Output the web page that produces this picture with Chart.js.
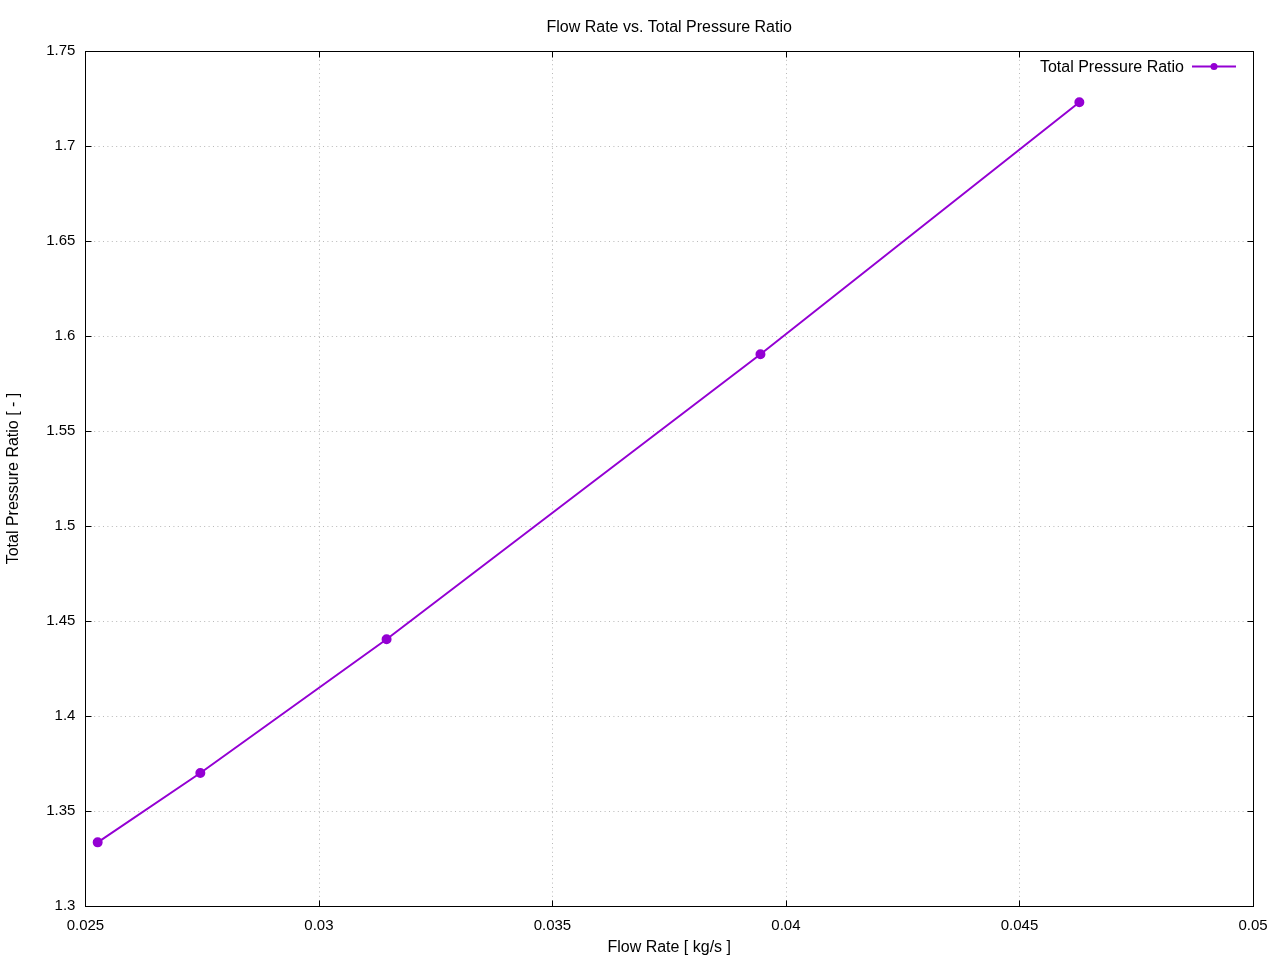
<!DOCTYPE html>
<html>
<head>
<meta charset="utf-8">
<script src="https://cdn.jsdelivr.net/npm/chart.js@4/dist/chart.umd.min.js"></script>
<style>
  html, body { margin: 0; padding: 0; background: #fff; }
  #wrap { width: 1280px; height: 960px; }
</style>
</head>
<body>
<div id="wrap"><canvas id="chart" width="1280" height="960"></canvas></div>
<script>
// data
const flowRate = [0.025263, 0.027461, 0.031449, 0.039454, 0.046282];
const pressureRatio = [1.3335, 1.3700, 1.4404, 1.5904, 1.7230];
const seriesLabel = "Total Pressure Ratio";
const xTicks = [0.025, 0.03, 0.035, 0.04, 0.045, 0.05];
const yTicks = [1.3, 1.35, 1.4, 1.45, 1.5, 1.55, 1.6, 1.65, 1.7, 1.75];

const lineColor = "#9400d3";
const fontFamily = "'Liberation Sans', Arial, sans-serif";

Chart.defaults.font.family = fontFamily;
Chart.defaults.font.size = 15;
Chart.defaults.color = "#000";

// gnuplot style frame, dotted grid and inward tics on all four sides
const framePlugin = {
    id: "frame",
    beforeDatasetsDraw(chart) {
        const { ctx, chartArea: a, scales } = chart;
        ctx.save();
        ctx.strokeStyle = "#b8b8b8";
        ctx.lineWidth = 1;
        ctx.setLineDash([1, 3.4]);
        xTicks.slice(1, -1).forEach(v => {
            const x = Math.round(scales.x.getPixelForValue(v)) + 0.5;
            ctx.beginPath();
            ctx.moveTo(x, a.top);
            ctx.lineTo(x, a.bottom);
            ctx.stroke();
        });
        yTicks.slice(1, -1).forEach(v => {
            const y = Math.round(scales.y.getPixelForValue(v)) + 0.5;
            ctx.beginPath();
            ctx.moveTo(a.left, y);
            ctx.lineTo(a.right, y);
            ctx.stroke();
        });
        ctx.restore();
    },
    afterDraw(chart) {
        const { ctx, chartArea: a, scales } = chart;
        const len = 6;
        ctx.save();
        ctx.strokeStyle = "#000";
        ctx.lineWidth = 1;
        ctx.setLineDash([]);
        const l = Math.round(a.left) + 0.5, r = Math.round(a.right) + 0.5;
        const t = Math.round(a.top) + 0.5, b = Math.round(a.bottom) + 0.5;
        ctx.strokeRect(l, t, r - l, b - t);
        ctx.beginPath();
        xTicks.forEach(v => {
            const x = Math.round(scales.x.getPixelForValue(v)) + 0.5;
            ctx.moveTo(x, b); ctx.lineTo(x, b - len);
            ctx.moveTo(x, t); ctx.lineTo(x, t + len);
        });
        yTicks.forEach(v => {
            const y = Math.round(scales.y.getPixelForValue(v)) + 0.5;
            ctx.moveTo(l, y); ctx.lineTo(l + len, y);
            ctx.moveTo(r, y); ctx.lineTo(r - len, y);
        });
        ctx.stroke();

        // key, top right inside the frame
        const ky = 66.5;
        ctx.font = "16px " + fontFamily;
        ctx.fillStyle = "#000";
        ctx.textAlign = "right";
        ctx.textBaseline = "middle";
        ctx.fillText(seriesLabel, 1184, ky + 1.5);
        ctx.strokeStyle = lineColor;
        ctx.lineWidth = 2;
        ctx.beginPath();
        ctx.moveTo(1192, ky);
        ctx.lineTo(1236, ky);
        ctx.stroke();
        ctx.fillStyle = lineColor;
        ctx.beginPath();
        ctx.arc(1214, ky, 3.5, 0, Math.PI * 2);
        ctx.fill();
        ctx.restore();
    }
};

new Chart(document.getElementById("chart"), {
    type: "scatter",
    data: {
        datasets: [{
            label: seriesLabel,
            data: flowRate.map((x, i) => ({ x: x, y: pressureRatio[i] })),
            showLine: true,
            borderColor: lineColor,
            backgroundColor: lineColor,
            borderWidth: 2,
            pointRadius: 4,
            pointHoverRadius: 4,
            tension: 0
        }]
    },
    options: {
        responsive: false,
        animation: false,
        layout: { padding: { left: 4, right: 27, top: 0, bottom: 0 } },
        plugins: {
            legend: { display: false },
            tooltip: { enabled: false },
            title: {
                display: true,
                text: "Flow Rate vs. Total Pressure Ratio",
                fullSize: false,
                font: { size: 16, weight: "normal" },
                color: "#000",
                padding: { top: 18.4, bottom: 13.4 }
            }
        },
        scales: {
            x: {
                type: "linear",
                min: 0.025,
                max: 0.05,
                afterBuildTicks: s => { s.ticks = xTicks.map(v => ({ value: v })); },
                ticks: {
                    padding: 11,
                    maxRotation: 0,
                    callback: v => String(Number(v.toFixed(4)))
                },
                grid: { display: false, drawTicks: false },
                border: { display: false },
                title: {
                    display: true,
                    text: "Flow Rate [ kg/s ]",
                    color: "#000",
                    font: { size: 16 },
                    padding: { top: -7.6, bottom: 2.4 }
                }
            },
            y: {
                type: "linear",
                min: 1.3,
                max: 1.75,
                afterBuildTicks: s => { s.ticks = yTicks.map(v => ({ value: v })); },
                ticks: {
                    padding: 10,
                    callback: v => String(Number(v.toFixed(3)))
                },
                grid: { display: false, drawTicks: false },
                border: { display: false },
                title: {
                    display: true,
                    text: "Total Pressure Ratio [ - ]",
                    color: "#000",
                    font: { size: 16 },
                    padding: { top: 0, bottom: 13 }
                }
            }
        }
    },
    plugins: [framePlugin]
});
</script>
</body>
</html>
